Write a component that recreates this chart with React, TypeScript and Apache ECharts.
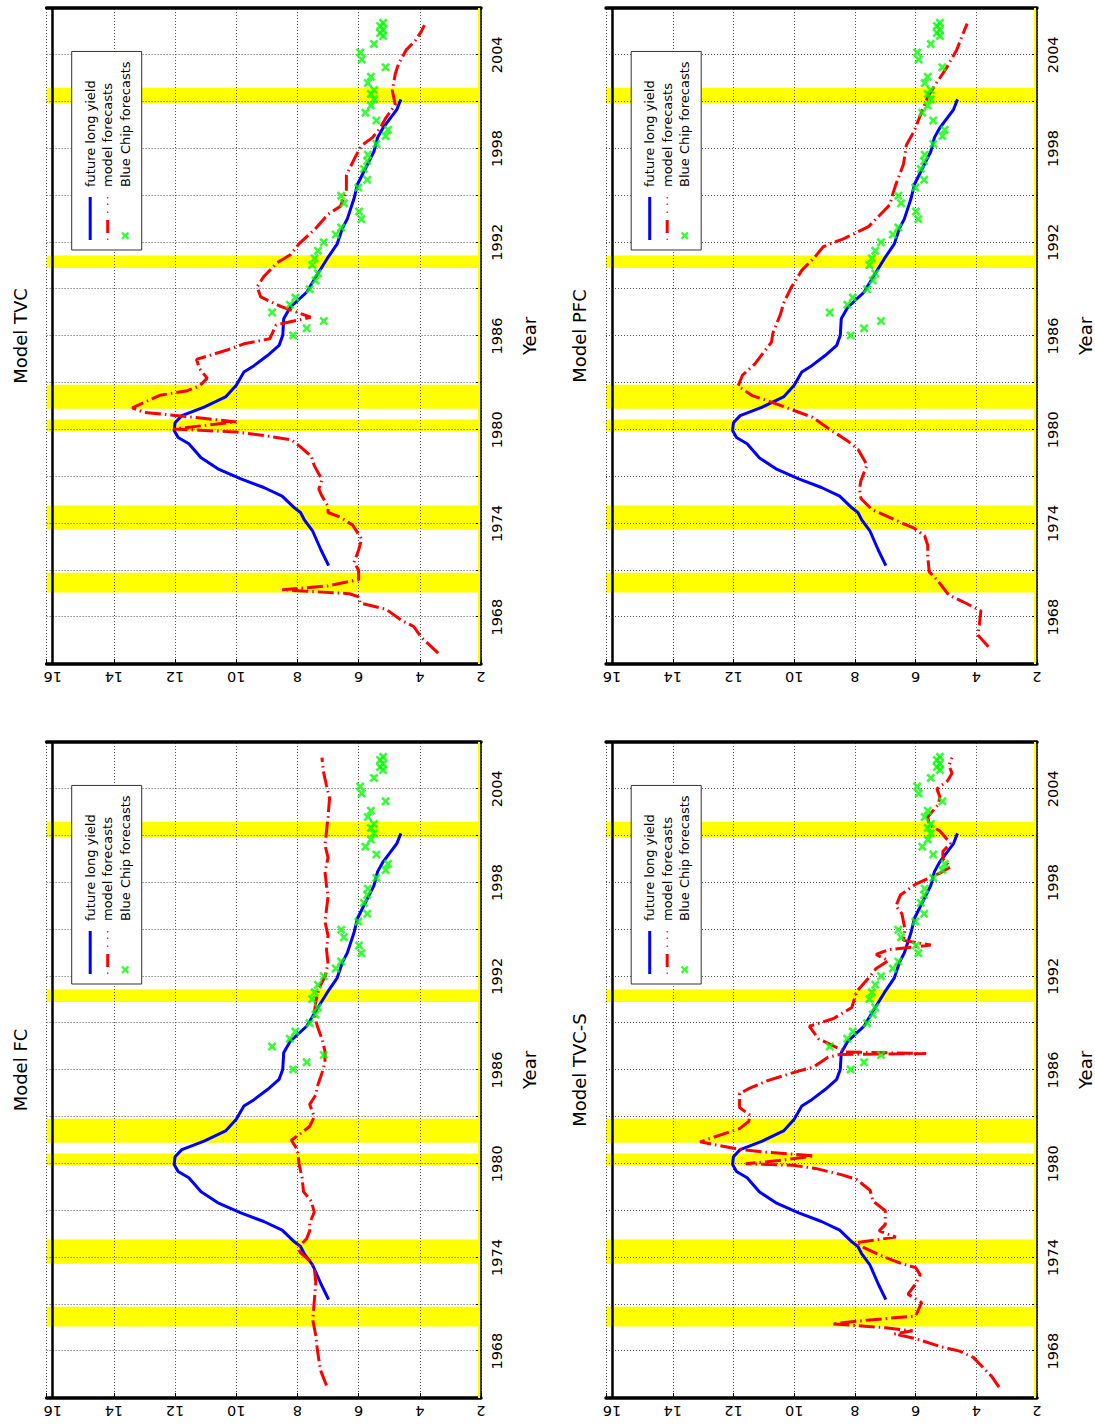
import { useEffect, useRef } from "react";
import * as echarts from "echarts";

// ---------- data ----------
const panelTitles = ["Model FC", "Model TVC", "Model TVC-S", "Model PFC"];
const yearLabels = [1968, 1974, 1980, 1986, 1992, 1998, 2004];
const valueLabels = [2, 4, 6, 8, 10, 12, 14, 16];
const legendNames = ["future long yield", "model forecasts", "Blue Chip forecasts"];

const recessionBands: [number, number][] = [
  [1969.58, 1970.85],
  [1973.6, 1975.15],
  [1979.88, 1980.66],
  [1981.35, 1982.88],
  [1990.35, 1991.15],
  [2000.88, 2001.9],
];

const futureLongYield: [number, number][] = [
  [1971.3, 6.98], [1972.3, 7.23], [1973.5, 7.5], [1974.25, 7.78], [1974.7, 7.9],
  [1975.0, 8.1], [1975.75, 8.5], [1976.3, 9.1], [1976.85, 9.85], [1977.5, 10.6],
  [1978.2, 11.15], [1979.1, 11.55], [1979.5, 11.9], [1979.95, 12.03], [1980.45, 12.0],
  [1980.9, 11.78], [1981.45, 11.05], [1982.1, 10.35], [1982.85, 10.0], [1983.7, 9.75],
  [1984.1, 9.42], [1984.75, 8.98], [1985.4, 8.6], [1986.05, 8.48], [1987.1, 8.45],
  [1987.85, 8.23], [1988.8, 7.7], [1989.9, 7.36], [1990.95, 7.03], [1991.9, 6.7],
  [1992.9, 6.53], [1993.5, 6.37], [1994.8, 6.15], [1995.7, 6.04], [1996.95, 5.72],
  [1997.8, 5.5], [1998.7, 5.38], [1999.3, 5.21], [1999.9, 4.98], [2000.5, 4.75],
  [2001.15, 4.62],
];

const blueChipForecasts: [number, number][] = [
  [1986.04, 8.14], [1986.5, 7.7], [1986.96, 7.14], [1987.5, 8.83], [1988.0, 8.25],
  [1988.46, 8.07], [1989.0, 7.6], [1989.56, 7.41], [1990.0, 7.33], [1990.54, 7.52],
  [1990.97, 7.44], [1991.46, 7.33], [1992.0, 7.14], [1992.5, 6.75], [1992.94, 6.57],
  [1993.48, 5.91], [1993.97, 5.99], [1994.5, 6.48], [1994.98, 6.57], [1995.5, 6.01],
  [1996.0, 5.72], [1996.7, 5.83], [1997.2, 5.72], [1997.6, 5.7], [1998.3, 5.42],
  [1998.8, 5.12], [1999.2, 5.04], [1999.8, 5.42], [2000.3, 5.78], [2000.75, 5.6],
  [2001.15, 5.5], [2001.5, 5.6], [2001.75, 5.5], [2002.2, 5.7], [2002.6, 5.6],
  [2003.2, 5.12], [2003.7, 5.9], [2004.15, 5.95], [2004.7, 5.5], [2005.2, 5.2],
  [2005.4, 5.3], [2005.6, 5.2], [2005.85, 5.3], [2006.05, 5.2],
];

const fcForecasts: [number, number][] = [
  [1965.8, 7.05], [1966.8, 7.25], [1968.1, 7.35], [1969.0, 7.4], [1970.0, 7.5],
  [1971.2, 7.45], [1972.4, 7.4], [1973.3, 7.45], [1973.8, 7.6], [1974.3, 7.9],
  [1974.6, 8.0], [1975.2, 7.7], [1975.7, 7.6], [1976.2, 7.6], [1976.9, 7.45],
  [1977.6, 7.55], [1978.2, 7.8], [1979.1, 7.85], [1980.0, 7.95], [1980.9, 8.0],
  [1981.5, 8.2], [1982.0, 7.85], [1982.4, 7.6], [1983.0, 7.45], [1983.8, 7.6],
  [1984.4, 7.4], [1984.95, 7.35], [1985.8, 7.2], [1986.5, 7.1], [1987.2, 7.1],
  [1988.0, 7.2], [1988.8, 7.35], [1989.6, 7.45], [1990.4, 7.4], [1991.2, 7.3],
  [1992.0, 7.1], [1992.8, 7.0], [1993.7, 7.05], [1994.6, 7.0], [1995.5, 7.1],
  [1996.3, 7.05], [1997.1, 7.0], [1997.8, 7.05], [1998.7, 7.1], [1999.6, 7.0],
  [2000.4, 7.1], [2001.3, 7.05], [2002.2, 7.0], [2003.4, 6.95], [2004.2, 7.05],
  [2005.1, 7.15], [2006.0, 7.2],
];

const tvcForecasts: [number, number][] = [
  [1965.7, 3.4], [1966.7, 3.95], [1967.4, 4.2], [1967.8, 4.6], [1968.5, 5.1],
  [1968.9, 5.95], [1969.3, 6.0], [1969.5, 6.3], [1969.75, 8.5], [1970.0, 7.0],
  [1970.4, 6.0], [1971.0, 6.0], [1971.5, 6.15], [1972.3, 6.0], [1973.0, 5.9],
  [1973.9, 6.2], [1974.4, 6.6], [1974.7, 7.0], [1975.1, 7.0], [1975.75, 7.2],
  [1976.2, 7.3], [1976.8, 7.2], [1977.7, 7.45], [1978.3, 7.55], [1978.9, 7.9],
  [1979.35, 8.2], [1979.6, 9.0], [1979.85, 10.0], [1980.05, 12.05], [1980.5, 10.0],
  [1980.9, 11.9], [1981.1, 13.0], [1981.4, 13.4], [1982.2, 12.5], [1982.5, 11.6],
  [1982.8, 11.2], [1983.3, 10.95], [1983.9, 11.2], [1984.5, 11.3], [1985.1, 10.3],
  [1985.5, 9.75], [1985.83, 8.9], [1986.7, 8.7], [1987.2, 7.57], [1987.9, 8.55],
  [1988.5, 9.2], [1989.15, 9.32], [1989.8, 9.1], [1990.7, 8.66], [1991.2, 8.23],
  [1991.9, 7.95], [1992.9, 7.4], [1993.8, 7.0], [1994.3, 6.6], [1995.2, 6.4],
  [1996.3, 6.4], [1997.5, 6.1], [1998.2, 5.9], [1998.7, 5.55], [1999.3, 5.3],
  [2000.0, 5.1], [2000.8, 4.8], [2001.7, 4.9], [2002.8, 4.8], [2003.4, 4.7],
  [2004.3, 4.45], [2004.9, 4.15], [2005.5, 3.95], [2005.9, 3.85],
];

const tvcsForecasts: [number, number][] = [
  [1965.7, 3.25], [1966.4, 3.5], [1967.0, 3.8], [1967.6, 4.1], [1968.0, 4.55],
  [1968.3, 5.2], [1968.8, 6.0], [1969.1, 6.7], [1969.3, 6.1], [1969.5, 7.0],
  [1969.75, 8.75], [1970.0, 7.5], [1970.25, 6.0], [1971.1, 5.8], [1971.65, 6.25],
  [1972.3, 6.0], [1972.9, 5.85], [1973.35, 6.0], [1973.6, 6.45], [1974.0, 7.0],
  [1974.75, 7.85], [1974.95, 7.95], [1975.3, 6.65], [1975.7, 7.2], [1976.1, 7.0],
  [1977.0, 7.0], [1977.6, 7.4], [1978.3, 7.5], [1979.0, 7.95], [1979.3, 8.45],
  [1979.7, 9.3], [1979.9, 10.05], [1980.0, 11.6], [1980.2, 10.5], [1980.5, 9.35],
  [1980.75, 11.0], [1980.95, 11.9], [1981.4, 13.1], [1982.25, 11.8], [1982.7, 11.5],
  [1983.1, 11.45], [1983.6, 11.8], [1984.5, 11.8], [1984.8, 11.5], [1985.3, 10.9],
  [1985.85, 10.0], [1986.2, 9.35], [1986.8, 8.9], [1987.0, 8.5], [1987.05, 5.65],
  [1987.15, 8.3], [1988.0, 9.2], [1988.8, 9.5], [1989.3, 8.7], [1990.0, 8.1],
  [1991.0, 7.95], [1992.0, 7.5], [1992.5, 7.3], [1993.0, 6.9], [1993.4, 7.3],
  [1993.7, 6.9], [1994.0, 5.5], [1994.3, 6.4], [1995.0, 6.35], [1996.0, 6.45],
  [1996.5, 6.65], [1997.2, 6.5], [1997.9, 6.0], [1998.6, 5.2], [1999.0, 4.85],
  [1999.5, 5.1], [2000.0, 5.1], [2000.5, 4.85], [2001.3, 5.2], [2001.7, 5.55],
  [2002.2, 5.6], [2003.0, 5.25], [2003.5, 5.2], [2004.0, 5.3], [2004.5, 4.95],
  [2005.0, 4.8], [2005.5, 4.9], [2006.0, 4.8],
];

const pfcForecasts: [number, number][] = [
  [1966.1, 3.6], [1966.85, 3.95], [1967.5, 3.9], [1968.4, 3.85], [1969.0, 4.45],
  [1969.4, 4.9], [1970.4, 5.3], [1970.9, 5.55], [1971.9, 5.6], [1972.6, 5.6],
  [1973.2, 5.7], [1973.7, 6.05], [1974.2, 6.65], [1974.9, 7.45], [1975.6, 7.8],
  [1976.2, 7.85], [1976.75, 7.8], [1977.75, 7.6], [1978.75, 7.9], [1979.3, 8.25],
  [1980.05, 8.85], [1980.8, 9.4], [1981.3, 10.1], [1981.8, 10.8], [1982.2, 11.4],
  [1982.8, 11.85], [1983.5, 11.7], [1984.2, 11.3], [1985.1, 10.95], [1985.6, 10.75],
  [1986.2, 10.7], [1987.4, 10.45], [1988.1, 10.35], [1989.1, 10.1], [1990.2, 9.75],
  [1991.1, 9.3], [1991.7, 9.05], [1991.95, 8.75], [1992.2, 8.4], [1993.0, 7.55],
  [1993.7, 7.2], [1994.4, 6.85], [1995.1, 6.75], [1995.7, 6.65], [1997.0, 6.4],
  [1998.25, 6.3], [1999.1, 6.05], [2000.1, 5.85], [2001.3, 5.6], [2002.1, 5.35],
  [2003.1, 5.0], [2004.3, 4.65], [2005.3, 4.45], [2006.0, 4.3],
];

const panelForecasts = [fcForecasts, tvcForecasts, tvcsForecasts, pfcForecasts];

// ---------- layout (landscape canvas, page shows it turned a quarter left) ----------
const FONT = "DejaVu Sans";
const CW = 1424;
const CH = 1095;
const grids = [
  { left: 26, top: 46.6, width: 656, height: 434.4, top16: 52.7 },
  { left: 760, top: 46.6, width: 656, height: 434.4, top16: 52.7 },
  { left: 26, top: 606, width: 656, height: 436, top16: 612.2 },
  { left: 760, top: 606, width: 656, height: 436, top16: 612.2 },
];
const xMark =
  "path://M0,2L2,0L5,3L8,0L10,2L7,5L10,8L8,10L5,7L2,10L0,8L3,5Z";
// legend icons (43 wide samples)
const legendSolid = "path://M0,0L43,0L43,3L0,3Z";
const legendDashDot =
  "path://M0,0.9L1.5,0.9L1.5,2.1L0,2.1ZM7,0L20,0L20,3L7,3ZM27,0.9L28.5,0.9L28.5,2.1L27,2.1ZM35,0.9L36.5,0.9L36.5,2.1L35,2.1ZM41.5,0.9L43,0.9L43,2.1L41.5,2.1Z";
const legendCross =
  "path://M0,2L2,0L5,3L8,0L10,2L7,5L10,8L8,10L5,7L2,10L0,8L3,5ZM53,5L53,5";

function buildOption() {
  const grid: any[] = [];
  const xAxis: any[] = [];
  const yAxis: any[] = [];
  const series: any[] = [];
  const title: any[] = [];
  const legend: any[] = [];
  const dotted = { type: [1, 2], color: "#555", width: 1 };
  const legendIcons = [legendSolid, legendDashDot, legendCross];

  grids.forEach((g, i) => {
    grid.push({ left: g.left, top: g.top, width: g.width, height: g.height, show: false });
    xAxis.push({
      type: "value",
      gridIndex: i,
      min: 1965,
      max: 2007,
      interval: 3,
      z: 2,
      name: "Year",
      nameLocation: "middle",
      nameGap: 39,
      nameTextStyle: { fontFamily: FONT, fontSize: 18, color: "#000" },
      axisLine: { show: true, onZero: false, lineStyle: { color: "#000", width: 1.5 } },
      axisTick: { show: true, inside: true, length: 5, lineStyle: { color: "#000" } },
      axisLabel: {
        formatter: (v: number) => (yearLabels.includes(v) ? String(v) : ""),
        fontFamily: FONT,
        fontSize: 14.5,
        color: "#000",
        margin: 8,
      },
      splitLine: { show: true, lineStyle: dotted },
    });
    yAxis.push({
      type: "value",
      gridIndex: i,
      position: "left",
      min: 2,
      max: 16.2,
      interval: 2,
      z: 2,
      axisLine: { show: true, onZero: false, lineStyle: { color: "#000", width: 3.5 } },
      axisTick: { show: true, inside: true, length: 5, lineStyle: { color: "#000" } },
      axisLabel: {
        rotate: 90,
        formatter: (v: number) => (valueLabels.includes(v) ? String(v) : ""),
        fontFamily: FONT,
        fontSize: 14.5,
        color: "#000",
        margin: 5,
      },
      splitLine: { show: true, lineStyle: dotted },
    });
    yAxis.push({
      type: "value",
      gridIndex: i,
      position: "right",
      min: 2,
      max: 16.2,
      interval: 2,
      z: 2,
      axisLine: { show: true, onZero: false, lineStyle: { color: "#000", width: 3.5 } },
      axisTick: { show: false },
      axisLabel: { show: false },
      splitLine: { show: false },
    });

    series.push({
      type: "line",
      name: "recessions",
      xAxisIndex: i,
      yAxisIndex: 2 * i,
      data: [],
      silent: true,
      markArea: {
        silent: true,
        itemStyle: { color: "#ffff00" },
        data: recessionBands.map(([a, b]) => [{ xAxis: a }, { xAxis: b }]),
      },
    });
    series.push({
      type: "line",
      name: "future long yield",
      xAxisIndex: i,
      yAxisIndex: 2 * i,
      data: futureLongYield,
      symbol: "none",
      z: 3,
      lineStyle: { color: "#0000ff", width: 3 },
      itemStyle: { color: "#0000ff" },
    });
    series.push({
      type: "line",
      name: "model forecasts",
      xAxisIndex: i,
      yAxisIndex: 2 * i,
      data: panelForecasts[i],
      symbol: "none",
      z: 4,
      lineStyle: { color: "#ff0000", width: 3, type: [16, 4, 1.5, 4] },
      itemStyle: { color: "#ff0000" },
    });
    series.push({
      type: "scatter",
      name: "Blue Chip forecasts",
      xAxisIndex: i,
      yAxisIndex: 2 * i,
      data: blueChipForecasts,
      symbol: xMark,
      symbolSize: 9,
      z: 5,
      itemStyle: { color: "#00ff00" },
    });
    series.push({
      type: "line",
      name: "frame",
      xAxisIndex: i,
      yAxisIndex: 2 * i,
      data: [],
      silent: true,
      markLine: {
        silent: true,
        symbol: ["none", "none"],
        label: { show: false },
        data: [
          { yAxis: 16, lineStyle: { color: "#000", width: 2.5, type: "solid" } },
          { yAxis: 2.07, lineStyle: { color: "#ffff00", width: 2, type: "solid" } },
        ],
      },
    });

    title.push({
      text: panelTitles[i],
      left: g.left + g.width / 2,
      top: g.top16 - 42.7,
      textAlign: "center",
      padding: 0,
      textStyle: { fontFamily: FONT, fontSize: 18, fontWeight: "normal", color: "#000", lineHeight: 20 },
    });
    legend.push({
      left: g.left + 414,
      top: g.top16 + 19,
      orient: "vertical",
      data: legendNames.map((n, k) => ({ name: n, icon: legendIcons[k] })),
      itemWidth: 43,
      itemHeight: 8,
      itemGap: 4.5,
      padding: [12, 10, 10, 10],
      borderColor: "#333",
      borderWidth: 1,
      borderRadius: 0,
      backgroundColor: "#fff",
      selectedMode: false,
      z: 10,
      textStyle: { fontFamily: FONT, fontSize: 13, color: "#000", lineHeight: 13, padding: [0, 0, 0, 5] },
    });
  });

  return {
    animation: false,
    backgroundColor: "#fff",
    title,
    legend,
    grid,
    xAxis,
    yAxis,
    series,
  };
}

function Chart() {
  const ref = useRef<HTMLDivElement>(null);
  useEffect(() => {
    if (!ref.current) return;
    const chart = echarts.init(ref.current, null, { renderer: "svg", width: CW, height: CH });
    chart.setOption(buildOption() as any);
    return () => chart.dispose();
  }, []);
  return <div ref={ref} style={{ width: CW, height: CH }} />;
}

export default function App() {
  return (
    <div
      style={{
        position: "absolute",
        left: 0,
        top: 0,
        width: CH,
        height: CW,
        overflow: "hidden",
        background: "#fff",
      }}
    >
      <div
        style={{
          position: "absolute",
          left: 0,
          top: 0,
          width: CW,
          height: CH,
          transformOrigin: "0 0",
          transform: `translate(0px, ${CW}px) rotate(-90deg)`,
        }}
      >
        <Chart />
      </div>
    </div>
  );
}
